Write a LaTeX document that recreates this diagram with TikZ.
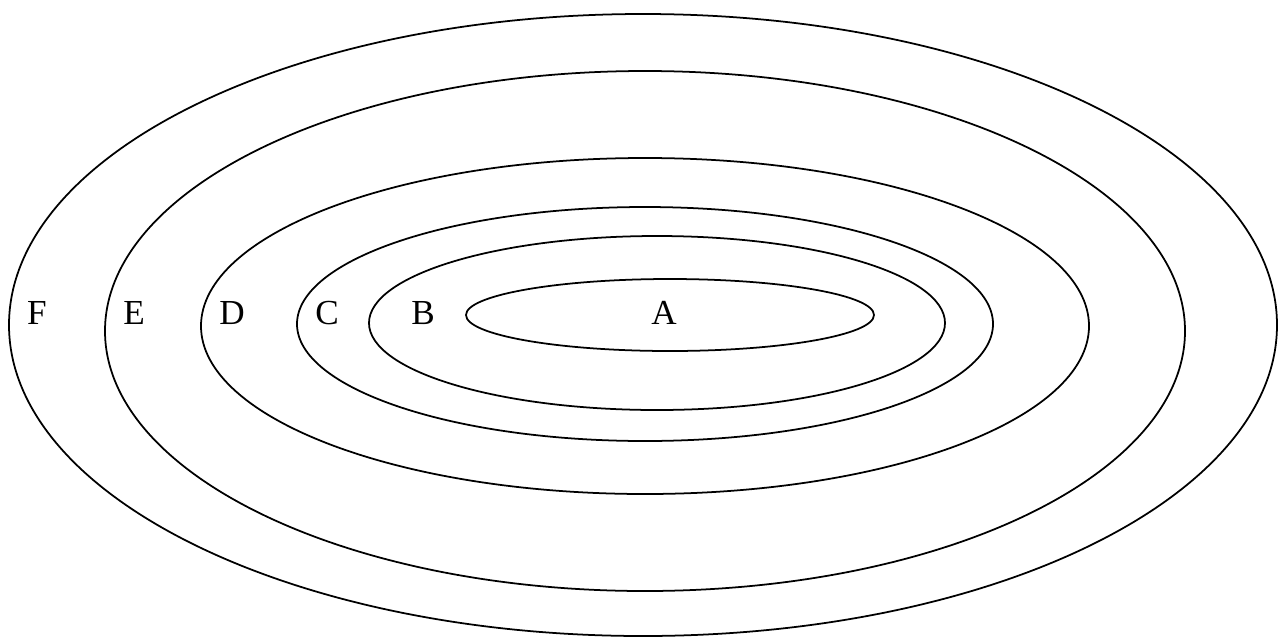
\documentclass[tikz,border=0pt]{standalone}
\usepackage{fontspec}
\setmainfont{Liberation Serif}
\usetikzlibrary{positioning}

\begin{document}
\begin{tikzpicture}[x=0.02cm, y=-0.02cm, line width=1pt,
    lbl/.style={inner sep=0pt, font=\fontsize{20}{24}\selectfont}]
            \useasboundingbox (0,0) rectangle (1278,637);
            % nested ellipses, outer to inner
            \draw (643,325) ellipse [x radius=634, y radius=311];
            \draw (645,331) ellipse [x radius=540, y radius=260];
            \draw (645,326) ellipse [x radius=444, y radius=168];
            \draw (645,324) ellipse [x radius=348, y radius=117];
            \draw (657,323) ellipse [x radius=288, y radius=87];
            \draw (670,315) ellipse [x radius=204, y radius=36];
            % labels
            \node[lbl] (F) at (37,313) {F};
            \node[lbl] (E) at (134,313) {E};
            \node[lbl] (D) at (232,313) {D};
            \node[lbl] (C) at (327,313) {C};
            \node[lbl] (B) at (423,313) {B};
            \node[lbl] (A) at (664,313) {A};
        \end{tikzpicture}
\end{document}
